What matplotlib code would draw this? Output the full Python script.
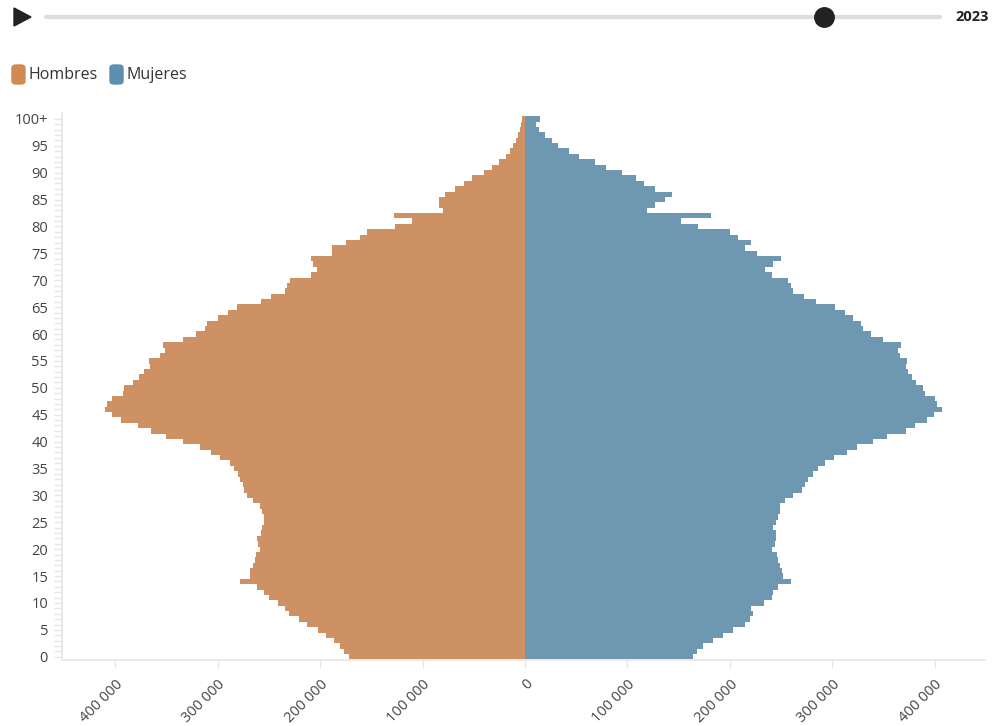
import matplotlib
matplotlib.use("Agg")
from matplotlib import pyplot as plt
from matplotlib.patches import FancyBboxPatch, Polygon
import numpy as np

# ---------------------------------------------------------------
# datos (miles de personas por edad, 0..100+)
edades = np.arange(0, 101)

hombres = [172, 177, 181, 186, 194, 202, 213, 221, 230, 234,
           241, 250, 255, 262, 278, 268, 268, 266, 264, 263,
           259, 261, 262, 258, 257, 255, 255, 257, 259, 266,
           271, 274, 275, 278, 280, 284, 288, 298, 307, 317,
           334, 350, 365, 378, 394, 403, 410, 408, 403, 392,
           391, 383, 377, 372, 366, 367, 356, 351, 353, 334,
           321, 312, 310, 300, 290, 281, 258, 248, 234, 232,
           229, 209, 203, 207, 209, 188, 188, 175, 161, 154,
           127, 110, 128, 80, 84, 84, 78, 68, 60, 52,
           40, 32, 25, 19, 15, 12, 9, 7, 5, 4, 3]

mujeres = [164, 168, 174, 183, 193, 203, 215, 220, 223, 221,
           233, 241, 242, 247, 260, 252, 251, 249, 247, 246,
           241, 244, 245, 245, 242, 245, 247, 249, 249, 254,
           262, 270, 273, 276, 281, 286, 293, 302, 314, 324,
           340, 353, 372, 381, 392, 399, 407, 402, 400, 390,
           388, 382, 378, 374, 372, 373, 366, 364, 367, 349,
           338, 330, 328, 320, 312, 303, 284, 272, 262, 260,
           257, 241, 234, 242, 250, 226, 215, 221, 208, 200,
           169, 152, 182, 119, 127, 137, 143, 127, 116, 108,
           95, 79, 68, 53, 43, 32, 26, 19, 14, 11, 15]

x_ticks = [-400000, -300000, -200000, -100000, 0, 100000, 200000, 300000, 400000]
y_ticks = list(range(0, 101, 5))
y_labels = [str(e) for e in range(0, 100, 5)] + ["100+"]
anio = "2023"

# ---------------------------------------------------------------
c_h = "#CD9163"
c_m = "#6E98B2"
gris = "#444444"
plt.rcParams['font.family'] = ['Open Sans', 'DejaVu Sans']

fig = plt.figure(figsize=(9.92, 7.26), dpi=100)
ax = fig.add_axes([62/992, 1-660/726, (985-62)/992, (660-113)/726])

h = -np.array(hombres) * 1000
m = np.array(mujeres) * 1000
ax.barh(edades, h, height=1.0, color=c_h, linewidth=0)
ax.barh(edades, m, height=1.0, color=c_m, linewidth=0)

ax.set_xlim(-452000, 449000)
ax.set_ylim(-0.6, 101.1)

ax.set_xticks(x_ticks)
ax.set_xticklabels([f"{abs(v):,}".replace(",", " ") for v in x_ticks],
                   rotation=45, ha="right", va="top", rotation_mode="anchor",
                   fontsize=10.5, color=gris)
ax.set_yticks(y_ticks)
ax.set_yticklabels(y_labels, fontsize=10.5, color=gris)
ax.set_yticks(edades, minor=True)
ax.tick_params(axis="both", which="both", length=6, color="#e6e6e6", width=1)
ax.tick_params(axis="y", which="major", pad=4)
ax.tick_params(axis="x", which="major", pad=6)

for s in ["top", "right"]:
    ax.spines[s].set_visible(False)
for s in ["left", "bottom"]:
    ax.spines[s].set_color("#e6e6e6")
    ax.spines[s].set_linewidth(1.2)

# ---------------------------------------------------------------
# control superior (reproductor)
fig.patches.append(Polygon([[14/992, 1-8/726], [14/992, 1-26/726], [31/992, 1-17/726]],
                           closed=True, color="#222222", transform=fig.transFigure))
fig.add_artist(plt.Line2D([46/992, 940/992], [1-17/726, 1-17/726],
                          color="#dddddd", linewidth=3, solid_capstyle="round"))
fig.add_artist(plt.Line2D([824/992], [1-17/726], marker="o", markersize=14,
                          color="#222222", linestyle="none"))
fig.text(955/992, 1-17/726, anio, fontsize=10.5, fontweight="bold",
         color="#222222", va="center", ha="left")

# leyenda
for x0, col, txt in [(12, "#D08A52", "Hombres"), (110, "#5F8FB0", "Mujeres")]:
    fig.patches.append(FancyBboxPatch((x0/992, 1-84/726), 13/992, 19/726,
                                      boxstyle="round,pad=0,rounding_size=0.004",
                                      color=col, transform=fig.transFigure))
    fig.text((x0+17)/992, 1-75/726, txt, fontsize=11.5, color="#333333",
             va="center", ha="left")

fig.savefig("out.png", dpi=100)
